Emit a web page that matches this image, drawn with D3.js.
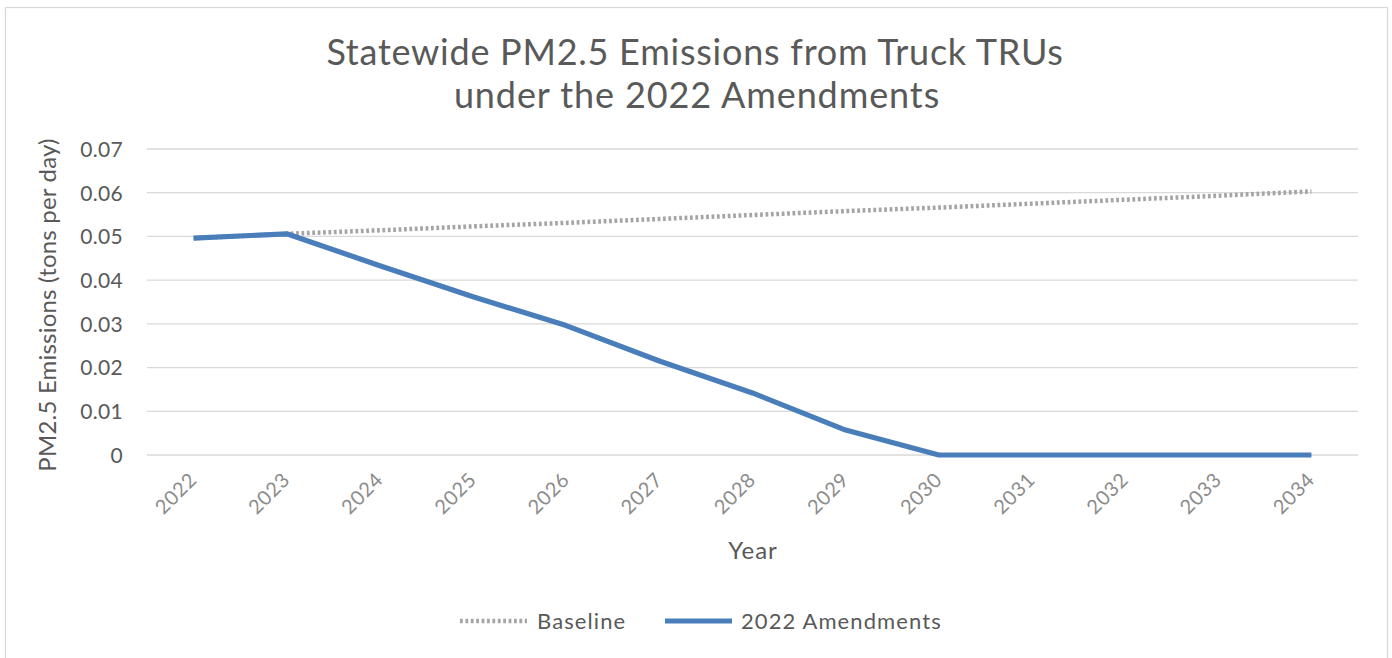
<!DOCTYPE html>
<html>
<head>
<meta charset="utf-8">
<script src="https://cdn.jsdelivr.net/npm/d3@7"></script>
<style>
  html, body { margin: 0; padding: 0; background: #fff; }
  svg { display: block; font-family: Lato, "Noto Sans", sans-serif; }
</style>
</head>
<body>
<svg id="chart" width="1392" height="658"></svg>
<script>
const years = ["2022","2023","2024","2025","2026","2027","2028","2029","2030","2031","2032","2033","2034"];
const baseline = [0.0496,0.0506,0.0514,0.0523,0.0531,0.0540,0.0549,0.0558,0.0566,0.0575,0.0584,0.0593,0.0603];
const amendments = [0.0496,0.0506,0.0433,0.0362,0.0296,0.0215,0.0142,0.0057,0,0,0,0,0];
const yTicks = [0,0.01,0.02,0.03,0.04,0.05,0.06,0.07];
const titleLines = ["Statewide PM2.5 Emissions from Truck TRUs","under the 2022 Amendments"];
const seriesNames = ["Baseline","2022 Amendments"];

const svg = d3.select("#chart");
const W = 1392, H = 658;
const plot = {left:147, right:1358, top:149, bottom:455};
const FONT = "Lato, 'Noto Sans', sans-serif";

svg.append("rect").attr("x",0).attr("y",0).attr("width",W).attr("height",H).attr("fill","#fff");
svg.append("rect").attr("x",5.5).attr("y",7.5).attr("width",1382).attr("height",700)
   .attr("fill","none").attr("stroke","#d9d9d9").attr("stroke-width",1.3);

const x = d3.scalePoint().domain(years).range([plot.left, plot.right]).padding(0.5);
const y = d3.scaleLinear().domain([0,0.07]).range([plot.bottom, plot.top]);

// gridlines
svg.append("g").selectAll("line").data(yTicks).join("line")
  .attr("x1",plot.left).attr("x2",plot.right)
  .attr("y1",d=>y(d)).attr("y2",d=>y(d))
  .attr("stroke","#d9d9d9").attr("stroke-width",1.3);

// y axis labels
const yAxis = d3.axisLeft(y).tickValues(yTicks).tickSize(0).tickPadding(0)
  .tickFormat(d => d === 0 ? "0" : d3.format(".2f")(d));
const gy = svg.append("g").attr("transform",`translate(${plot.left-24},0)`).call(yAxis);
gy.select(".domain").remove();
gy.selectAll("text").attr("fill","#595959").style("font-size","21px").style("font-family",FONT)
  .style("letter-spacing","0.3px").attr("dy","0.35em");

// x axis labels
const xAxis = d3.axisBottom(x).tickSize(0).tickPadding(0);
const gx = svg.append("g").attr("transform",`translate(0,${plot.bottom})`).call(xAxis);
gx.select(".domain").remove();
gx.selectAll("text")
  .attr("fill","#8c8c8c").style("font-size","20px").style("font-family",FONT)
  .style("letter-spacing","0.6px")
  .attr("text-anchor","end").attr("dy","0")
  .attr("transform","translate(4,26) rotate(-45)");

// lines
const line = d3.line().x((d,i)=>x(years[i])).y(d=>y(d));
svg.append("path").datum(baseline).attr("d",line)
  .attr("fill","none").attr("stroke","#a5a5a5").attr("stroke-width",4.5)
  .attr("stroke-dasharray","2.8,2.6");
svg.append("path").datum(amendments).attr("d",line)
  .attr("fill","none").attr("stroke","#4a7ebb").attr("stroke-width",5.2)
  .attr("stroke-linejoin","round");

// title
svg.append("text").attr("x",695).attr("y",65).attr("text-anchor","middle")
  .attr("fill","#595959").style("font-size","36px").style("letter-spacing","0.75px").text(titleLines[0]);
svg.append("text").attr("x",697).attr("y",108).attr("text-anchor","middle")
  .attr("fill","#595959").style("font-size","36px").style("letter-spacing","0.9px").text(titleLines[1]);

// axis titles
svg.append("text").attr("transform",`translate(56,305) rotate(-90)`)
  .attr("text-anchor","middle").attr("fill","#595959").style("font-size","24px")
  .style("letter-spacing","0.2px")
  .text("PM2.5 Emissions (tons per day)");
svg.append("text").attr("x",753).attr("y",559).attr("text-anchor","middle")
  .attr("fill","#595959").style("font-size","24px").style("letter-spacing","1px").text("Year");

// legend
const lg = svg.append("g");
lg.append("line").attr("x1",460).attr("x2",527).attr("y1",621).attr("y2",621)
  .attr("stroke","#a5a5a5").attr("stroke-width",4.5).attr("stroke-dasharray","2.8,2.6");
lg.append("text").attr("x",537).attr("y",629).attr("fill","#595959").style("font-size","22px")
  .style("letter-spacing","1.1px").text(seriesNames[0]);
lg.append("line").attr("x1",665).attr("x2",732).attr("y1",621).attr("y2",621)
  .attr("stroke","#4a7ebb").attr("stroke-width",5.2);
lg.append("text").attr("x",741).attr("y",629).attr("fill","#595959").style("font-size","22px")
  .style("letter-spacing","1.1px").text(seriesNames[1]);
</script>
</body>
</html>
